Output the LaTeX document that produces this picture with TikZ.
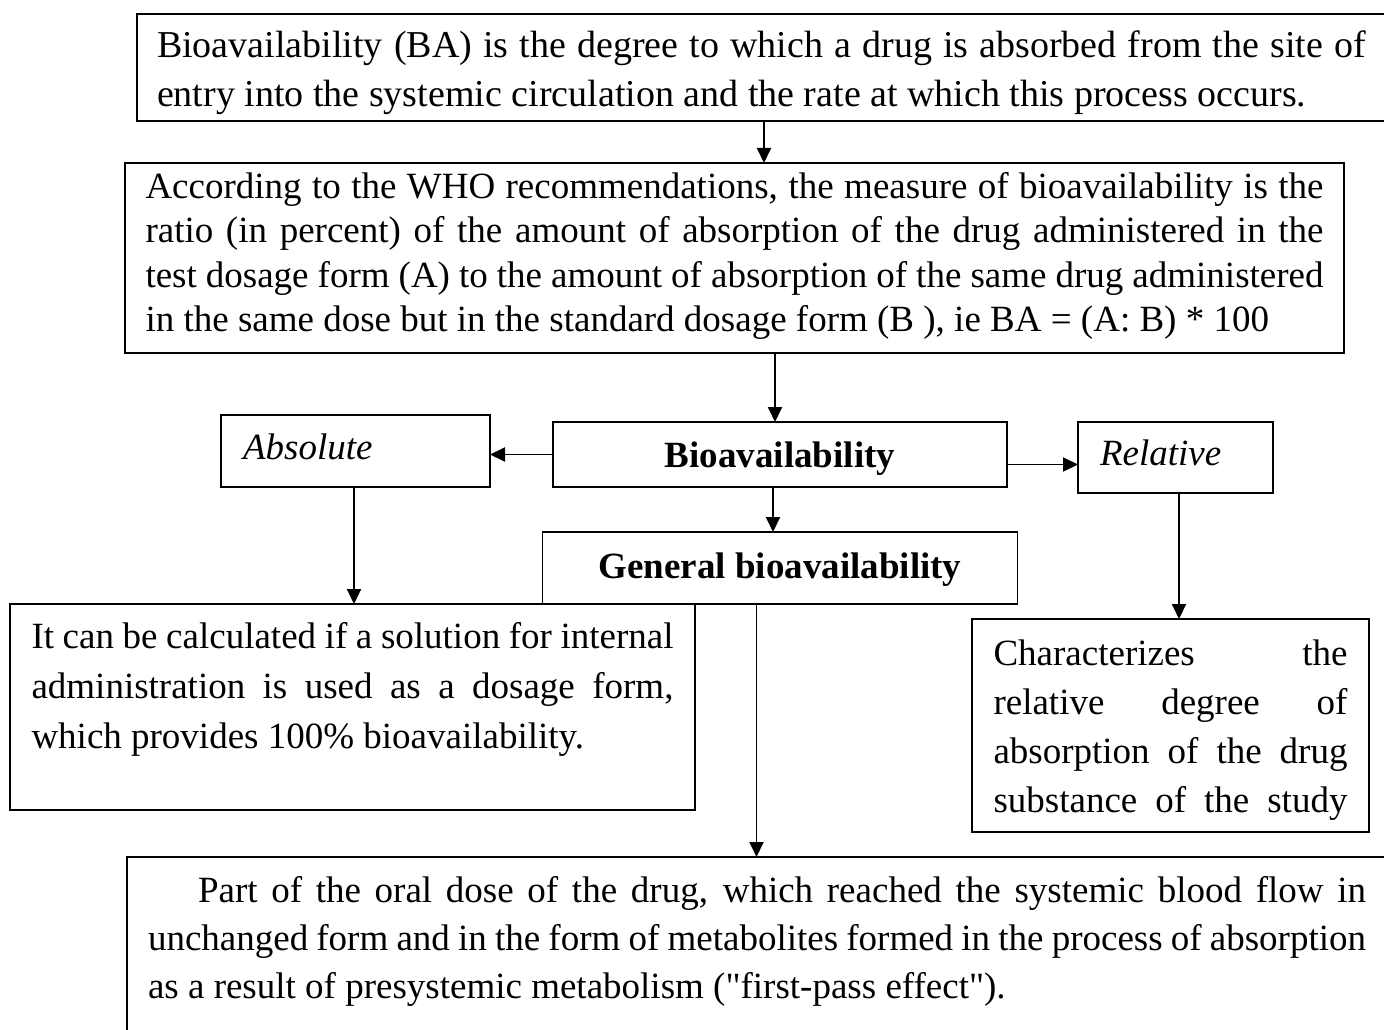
\documentclass[tikz,border=0pt]{standalone}
\usepackage{fontspec}
\setmainfont{Liberation Serif}[Ligatures=TeXOff]
\usepackage{xcolor}
\colorlet{colorBox}{black}
\colorlet{colorArrow}{black}
\usepackage{tikz}
\usetikzlibrary{arrows.meta, positioning}
\tikzset{box/.style={draw=colorBox, rectangle, inner ysep=0pt, outer sep=0pt, anchor=north west}}
\tikzset{textbox/.style={box, align=justify, font=\fontsize{37}{49}\selectfont}}

\begin{document}
\begin{tikzpicture}[>={Triangle[length=15pt, width=14pt]}, line width=1.9pt, x=1pt, y=-1pt]
\useasboundingbox (0,0) rectangle (1384,1030);
\clip (0,0) rectangle (1384,1030);
% definition and WHO measure
\node[textbox, font=\fontsize{38}{49}\selectfont, text width=1209pt, inner xsep=20pt, text height=44pt, text depth=63pt] (def) at (137,14) {Bioavailability (BA) is the degree to which a drug is absorbed from the site of\linebreak entry into the systemic circulation and the rate at which this process occurs.};
\node[textbox, font=\fontsize{37}{44.5}\selectfont, text width=1178pt, inner xsep=20.5pt, text height=35pt, text depth=155pt] (who) at (125,163) {According to the WHO recommendations, the measure of bioavailability is the\linebreak ratio (in percent) of the amount of absorption of the drug administered in the\linebreak test dosage form (A) to the amount of absorption of the same drug administered\linebreak in the same dose but in the standard dosage form (B ), ie BA = (A: B) * 100};
% kinds of bioavailability
\node[box, font=\fontsize{37}{44}\selectfont\bfseries, minimum width=454pt, text height=45pt, text depth=20pt] (ba) at (553,422) {Bioavailability};
\node[box, font=\fontsize{37}{44}\selectfont\bfseries, minimum width=475pt, text height=46pt, text depth=26pt, below=45pt of ba] (gen) {General bioavailability};
\node[box, font=\fontsize{37}{44}\selectfont\itshape, align=left, text width=225pt, inner xsep=22pt, text height=44pt, text depth=28pt] (abs) at (221,415) {Absolute};
\node[box, font=\fontsize{37}{44}\selectfont\itshape, align=left, text width=151pt, inner xsep=22pt, text height=43pt, text depth=28pt] (rel) at (1078,422) {Relative};
% notes
\node[textbox, font=\fontsize{37}{50}\selectfont, text width=642pt, inner xsep=21.5pt, text height=44pt, text depth=162pt] (absnote) at (10,604) {It can be calculated if a solution for internal\linebreak administration is used as a dosage form,\linebreak which provides 100\% bioavailability.};
\node[textbox, text width=354pt, inner xsep=21.5pt, text height=46pt, text depth=167pt] (relnote) at (972,619) {Characterizes the\linebreak relative degree of\linebreak absorption of the drug\linebreak \makebox[354pt][s]{substance of the study}};
\node[textbox, font=\fontsize{37}{48}\selectfont, text width=1218pt, inner xsep=21pt, text height=45pt, text depth=200pt] (gennote) at (127,857) {\hspace*{50pt}Part of the oral dose of the drug, which reached the systemic blood flow in\linebreak unchanged form and in the form of metabolites formed in the process of absorption\linebreak as a result of presystemic metabolism ("first-pass effect").};
% arrows
\draw[->, colorArrow] ([xshift=627pt]def.south west) coordinate (a1) -- (a1 |- who.north);
\draw[->, colorArrow] ([xshift=650pt]who.south west) coordinate (a2) -- (a2 |- ba.north);
\draw[->, colorArrow] ([xshift=220pt]ba.south west) coordinate (a3) -- (a3 |- gen.north);
\draw[->, colorArrow] (ba.west) -- (ba.west -| abs.east);
\draw[->, colorArrow] ([yshift=-10pt]ba.east) coordinate (a5) -- (a5 -| rel.west);
\draw[->, colorArrow] ([xshift=133pt]abs.south west) coordinate (a6) -- (a6 |- absnote.north);
\draw[->, colorArrow] ([xshift=101pt]rel.south west) coordinate (a7) -- (a7 |- relnote.north);
\draw[->, colorArrow] ([xshift=214pt]gen.south west) coordinate (a8) -- (a8 |- gennote.north);
\end{tikzpicture}
\end{document}
